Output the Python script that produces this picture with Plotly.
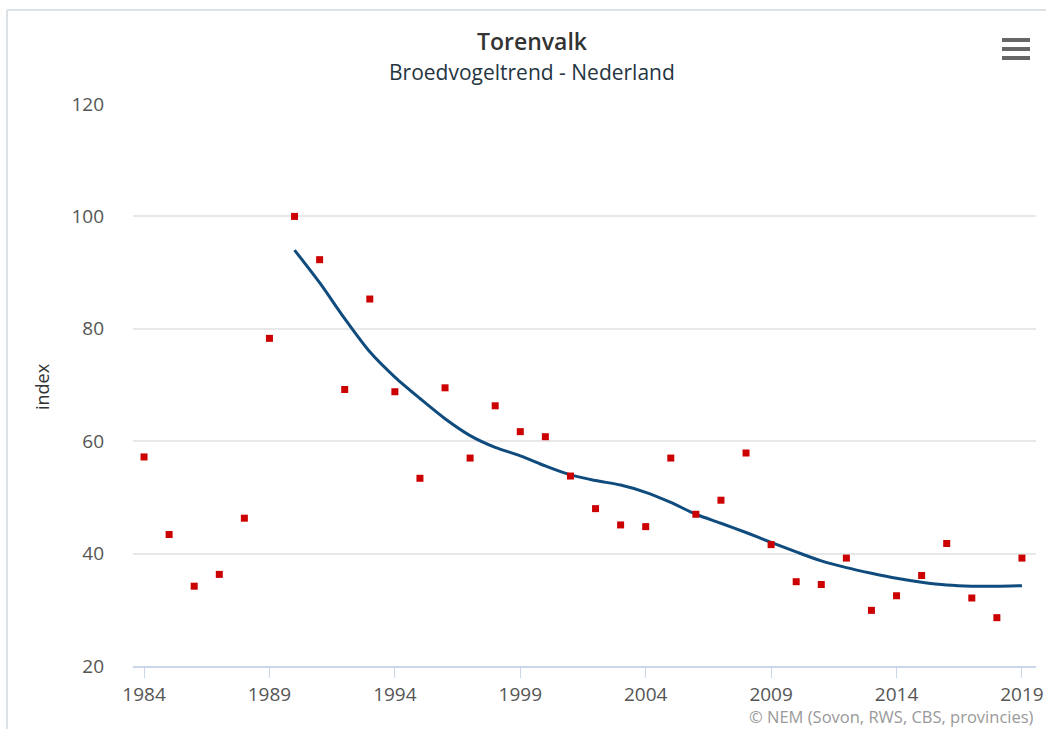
import plotly.graph_objects as go

years = list(range(1984, 2020))
index_values = [57.2, 43.4, 34.2, 36.3, 46.3, 78.3, 100.0, 92.3, 69.2, 85.3,
                68.8, 53.4, 69.5, 57.0, 66.3, 61.7, 60.8, 53.8, 48.0, 45.1,
                44.8, 57.0, 47.0, 49.5, 57.9, 41.6, 35.0, 34.5, 39.2, 29.9,
                32.5, 36.1, 41.8, 32.1, 28.6, 39.2]
trend_years = list(range(1990, 2020))
trend_values = [94.0, 88.2, 81.8, 75.9, 71.4, 67.6, 64.0, 61.0, 58.9, 57.4,
                55.6, 54.0, 53.0, 52.2, 50.9, 49.1, 47.0, 45.4, 43.75, 42.0,
                40.3, 38.7, 37.5, 36.5, 35.6, 34.9, 34.4, 34.2, 34.2, 34.3]
x_ticks = [1984, 1989, 1994, 1999, 2004, 2009, 2014, 2019]
y_ticks = [20, 40, 60, 80, 100, 120]

FONT = "Open Sans"
W, H = 1046, 729
L, R, T, B = 133, 10, 104, 63
pw, ph = W - L - R, H - T - B

def px(x):
    return (x - L) / pw

def py(y):
    return (H - B - y) / ph

fig = go.Figure()
fig.add_trace(go.Scatter(
    x=trend_years, y=trend_values, mode="lines",
    line=dict(color="#0f4c7d", width=3, shape="spline", smoothing=0.8),
    hoverinfo="x+y", showlegend=False))
fig.add_trace(go.Scatter(
    x=years, y=index_values, mode="markers",
    marker=dict(symbol="square", size=7, color="#cc0000"),
    hoverinfo="x+y", showlegend=False))

shapes = [
    # chart frame (left and top)
    dict(type="line", xref="paper", yref="paper", x0=px(7), x1=px(7), y0=py(10), y1=py(740),
         line=dict(color="#dde2e7", width=2)),
    dict(type="line", xref="paper", yref="paper", x0=px(7), x1=px(1060), y0=py(10), y1=py(10),
         line=dict(color="#dde2e7", width=2)),
]
# hamburger menu icon
for yy in (40, 49, 58):
    shapes.append(dict(type="line", xref="paper", yref="paper",
                       x0=px(1002), x1=px(1030), y0=py(yy), y1=py(yy),
                       line=dict(color="#666666", width=4)))

fig.update_layout(
    width=W, height=H,
    margin=dict(l=L, r=R, t=T, b=B, autoexpand=False),
    paper_bgcolor="white", plot_bgcolor="white",
    font=dict(family=FONT, color="#555555", size=19),
    showlegend=False,
    shapes=shapes,
    annotations=[
        dict(text="Torenvalk", x=px(532), xref="paper", y=py(41), yref="paper",
             showarrow=False, xanchor="center", yanchor="middle",
             font=dict(family=FONT, size=23, color="#333333", weight=600)),
        dict(text="Broedvogeltrend - Nederland", x=px(532), xref="paper", y=py(72), yref="paper",
             showarrow=False, xanchor="center", yanchor="middle",
             font=dict(family=FONT, size=21, color="#25353f")),
        dict(text="index", x=px(42), xref="paper", y=py(387), yref="paper",
             showarrow=False, textangle=-90, xanchor="center", yanchor="middle",
             font=dict(family=FONT, size=18, color="#333333")),
        dict(text="© NEM (Sovon, RWS, CBS, provincies)", x=px(1036), xref="paper",
             y=py(716), yref="paper", showarrow=False, xanchor="right", yanchor="middle",
             font=dict(family=FONT, size=16.5, color="#999999")),
    ],
    xaxis=dict(
        range=[1983.56, 2019.56], tickvals=x_ticks, ticktext=[str(t) for t in x_ticks],
        showgrid=False, zeroline=False, automargin=False,
        showline=True, linecolor="#ccd6eb", linewidth=2,
        ticks="outside", ticklen=10, tickcolor="#ccd6eb", tickwidth=1,
        tickfont=dict(family=FONT, size=19, color="#555555"),
        fixedrange=True,
    ),
    yaxis=dict(
        range=[20, 120], tickvals=y_ticks, ticktext=[str(t) for t in y_ticks],
        showgrid=True, gridcolor="#e8e8e8", gridwidth=1.5, automargin=False,
        zeroline=False, showline=False, ticks="", ticklabelstandoff=28,
        tickfont=dict(family=FONT, size=19, color="#555555"),
        fixedrange=True,
    ),
)

fig.write_html("out.html", config={"displayModeBar": False},
               post_script="document.body.style.margin='0';document.body.style.overflow='hidden';")
